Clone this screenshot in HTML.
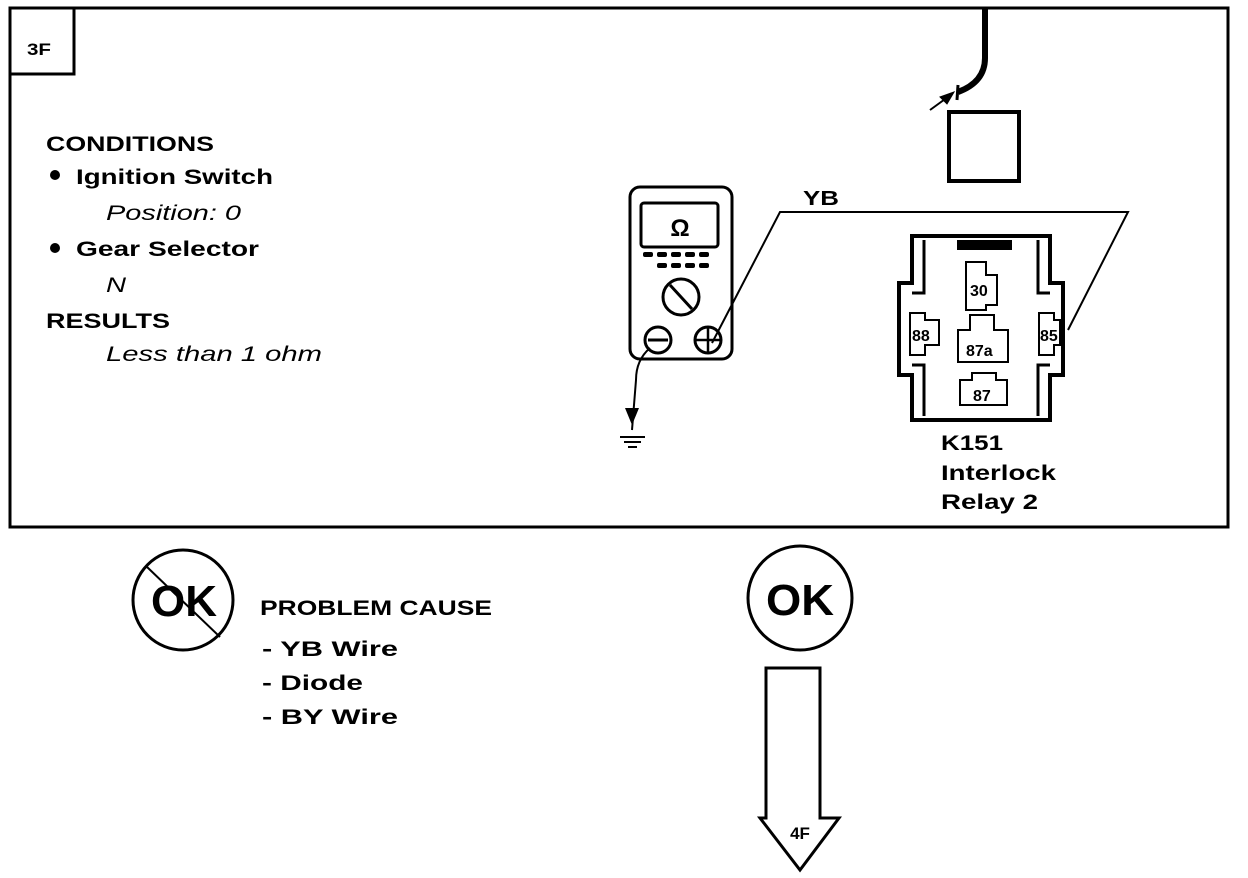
<!DOCTYPE html>
<html><head><meta charset="utf-8"><style>
html,body{margin:0;padding:0;background:#fff}
svg{display:block}
text{font-family:"Liberation Sans",Arial,sans-serif;font-weight:bold;fill:#000}
.i{font-style:italic;font-weight:normal}
</style></head><body>
<svg width="1248" height="878" viewBox="0 0 1248 878" xmlns="http://www.w3.org/2000/svg">
<g fill="none" stroke="#000">
<rect x="10" y="8" width="1218" height="519" stroke-width="3"/>
<rect x="10" y="8" width="64" height="66" stroke-width="3"/>
<path d="M985 8 L985 58 Q985 82 958 92" stroke-width="6"/>
<path d="M958 85 L957 100" stroke-width="3"/>
<line x1="930" y1="110" x2="952" y2="94" stroke-width="2"/>
<polygon points="954,92 940,97 947,104" fill="#000" stroke-width="1"/>
<rect x="949" y="112" width="70" height="69" stroke-width="4"/>
<rect x="630" y="187" width="102" height="172" rx="10" stroke-width="3"/>
<rect x="641" y="203" width="77" height="44" rx="3" stroke-width="3"/>
<circle cx="681" cy="297" r="18" stroke-width="3"/>
<line x1="670" y1="285" x2="692" y2="309" stroke-width="3"/>
<circle cx="658" cy="340" r="13" stroke-width="3"/>
<line x1="648" y1="340" x2="668" y2="340" stroke-width="3"/>
<circle cx="708" cy="340" r="13" stroke-width="3"/>
<line x1="695" y1="340" x2="721" y2="340" stroke-width="2.5"/>
<line x1="708" y1="327" x2="708" y2="353" stroke-width="2.5"/>
<polyline points="712,343 780,212 1128,212 1068,330" stroke-width="2"/>
<path d="M650 348 Q636 360 636 380 L632 430" stroke-width="2"/>
<line x1="620" y1="437" x2="645" y2="437" stroke-width="2"/>
<line x1="624" y1="442" x2="641" y2="442" stroke-width="2"/>
<line x1="628" y1="447" x2="637" y2="447" stroke-width="2"/>
<path d="M912 236 L1050 236 L1050 283 L1063 283 L1063 375 L1050 375 L1050 420 L912 420 L912 375 L899 375 L899 283 L912 283 Z" stroke-width="4"/>
<path d="M924 240 L924 293 L912 293 M912 365 L924 365 L924 416 M1038 240 L1038 293 L1050 293 M1050 365 L1038 365 L1038 416" stroke-width="3"/>
<path d="M966 262 L986 262 L986 275 L997 275 L997 305 L986 305 L986 310 L966 310 Z" stroke-width="2"/>
<path d="M910 313 L925 313 L925 320 L939 320 L939 345 L925 345 L925 355 L910 355 Z" stroke-width="2"/>
<path d="M1039 313 L1054 313 L1054 320 L1060 320 L1060 345 L1054 345 L1054 355 L1039 355 Z" stroke-width="2"/>
<path d="M970 315 L994 315 L994 330 L1008 330 L1008 362 L958 362 L958 330 L970 330 Z" stroke-width="2"/>
<path d="M972 373 L996 373 L996 380 L1007 380 L1007 405 L960 405 L960 380 L972 380 Z" stroke-width="2"/>
<circle cx="183" cy="600" r="50" stroke-width="3"/>
<line x1="146" y1="566" x2="220" y2="637" stroke-width="2"/>
<circle cx="800" cy="598" r="52" stroke-width="3"/>
<path d="M766 668 L820 668 L820 818 L839 818 L800 870 L760 818 L766 818 Z" stroke-width="3"/>
</g>
<rect x="957" y="240" width="55" height="10" fill="#000"/>
<g fill="#000">
<rect x="643" y="252" width="10" height="5" rx="2"/><rect x="657" y="252" width="10" height="5" rx="2"/><rect x="671" y="252" width="10" height="5" rx="2"/><rect x="685" y="252" width="10" height="5" rx="2"/><rect x="699" y="252" width="10" height="5" rx="2"/>
<rect x="657" y="263" width="10" height="5" rx="2"/><rect x="671" y="263" width="10" height="5" rx="2"/><rect x="685" y="263" width="10" height="5" rx="2"/><rect x="699" y="263" width="10" height="5" rx="2"/>
<polygon points="625,408 639,408 632,425"/>
</g>
<text x="27" y="55" font-size="17" textLength="24" lengthAdjust="spacingAndGlyphs">3F</text>
<text x="46" y="151" font-size="21" textLength="168" lengthAdjust="spacingAndGlyphs">CONDITIONS</text>
<circle cx="55" cy="175" r="5" fill="#000"/>
<text x="76" y="184" font-size="21" textLength="197" lengthAdjust="spacingAndGlyphs">Ignition Switch</text>
<text x="106" y="220" font-size="21" class="i" textLength="135" lengthAdjust="spacingAndGlyphs">Position: 0</text>
<circle cx="55" cy="248" r="5" fill="#000"/>
<text x="76" y="256" font-size="21" textLength="183" lengthAdjust="spacingAndGlyphs">Gear Selector</text>
<text x="106" y="292" font-size="21" class="i" textLength="20" lengthAdjust="spacingAndGlyphs">N</text>
<text x="46" y="328" font-size="21" textLength="124" lengthAdjust="spacingAndGlyphs">RESULTS</text>
<text x="106" y="361" font-size="21" class="i" textLength="216" lengthAdjust="spacingAndGlyphs">Less than 1 ohm</text>
<text x="680" y="236" font-size="24" text-anchor="middle">Ω</text>
<text x="803" y="205" font-size="20" textLength="36" lengthAdjust="spacingAndGlyphs">YB</text>
<text x="970" y="296" font-size="16" font-weight="normal">30</text>
<text x="912" y="341" font-size="16" font-weight="normal">88</text>
<text x="1040" y="341" font-size="16" font-weight="normal">85</text>
<text x="966" y="356" font-size="16" font-weight="normal">87a</text>
<text x="973" y="401" font-size="16" font-weight="normal">87</text>
<text x="941" y="450" font-size="21" textLength="62" lengthAdjust="spacingAndGlyphs">K151</text>
<text x="941" y="480" font-size="21" textLength="115" lengthAdjust="spacingAndGlyphs">Interlock</text>
<text x="941" y="509" font-size="21" textLength="97" lengthAdjust="spacingAndGlyphs">Relay 2</text>
<text x="151" y="616" font-size="44" textLength="66" lengthAdjust="spacingAndGlyphs">OK</text>
<text x="766" y="615" font-size="44" textLength="68" lengthAdjust="spacingAndGlyphs">OK</text>
<text x="260" y="615" font-size="21" textLength="232" lengthAdjust="spacingAndGlyphs">PROBLEM CAUSE</text>
<text x="262" y="656" font-size="21" textLength="136" lengthAdjust="spacingAndGlyphs">-  YB  Wire</text>
<text x="262" y="690" font-size="21" textLength="101" lengthAdjust="spacingAndGlyphs">-  Diode</text>
<text x="262" y="724" font-size="21" textLength="136" lengthAdjust="spacingAndGlyphs">-  BY  Wire</text>
<text x="800" y="839" font-size="17" text-anchor="middle">4F</text>
</svg>
</body></html>
